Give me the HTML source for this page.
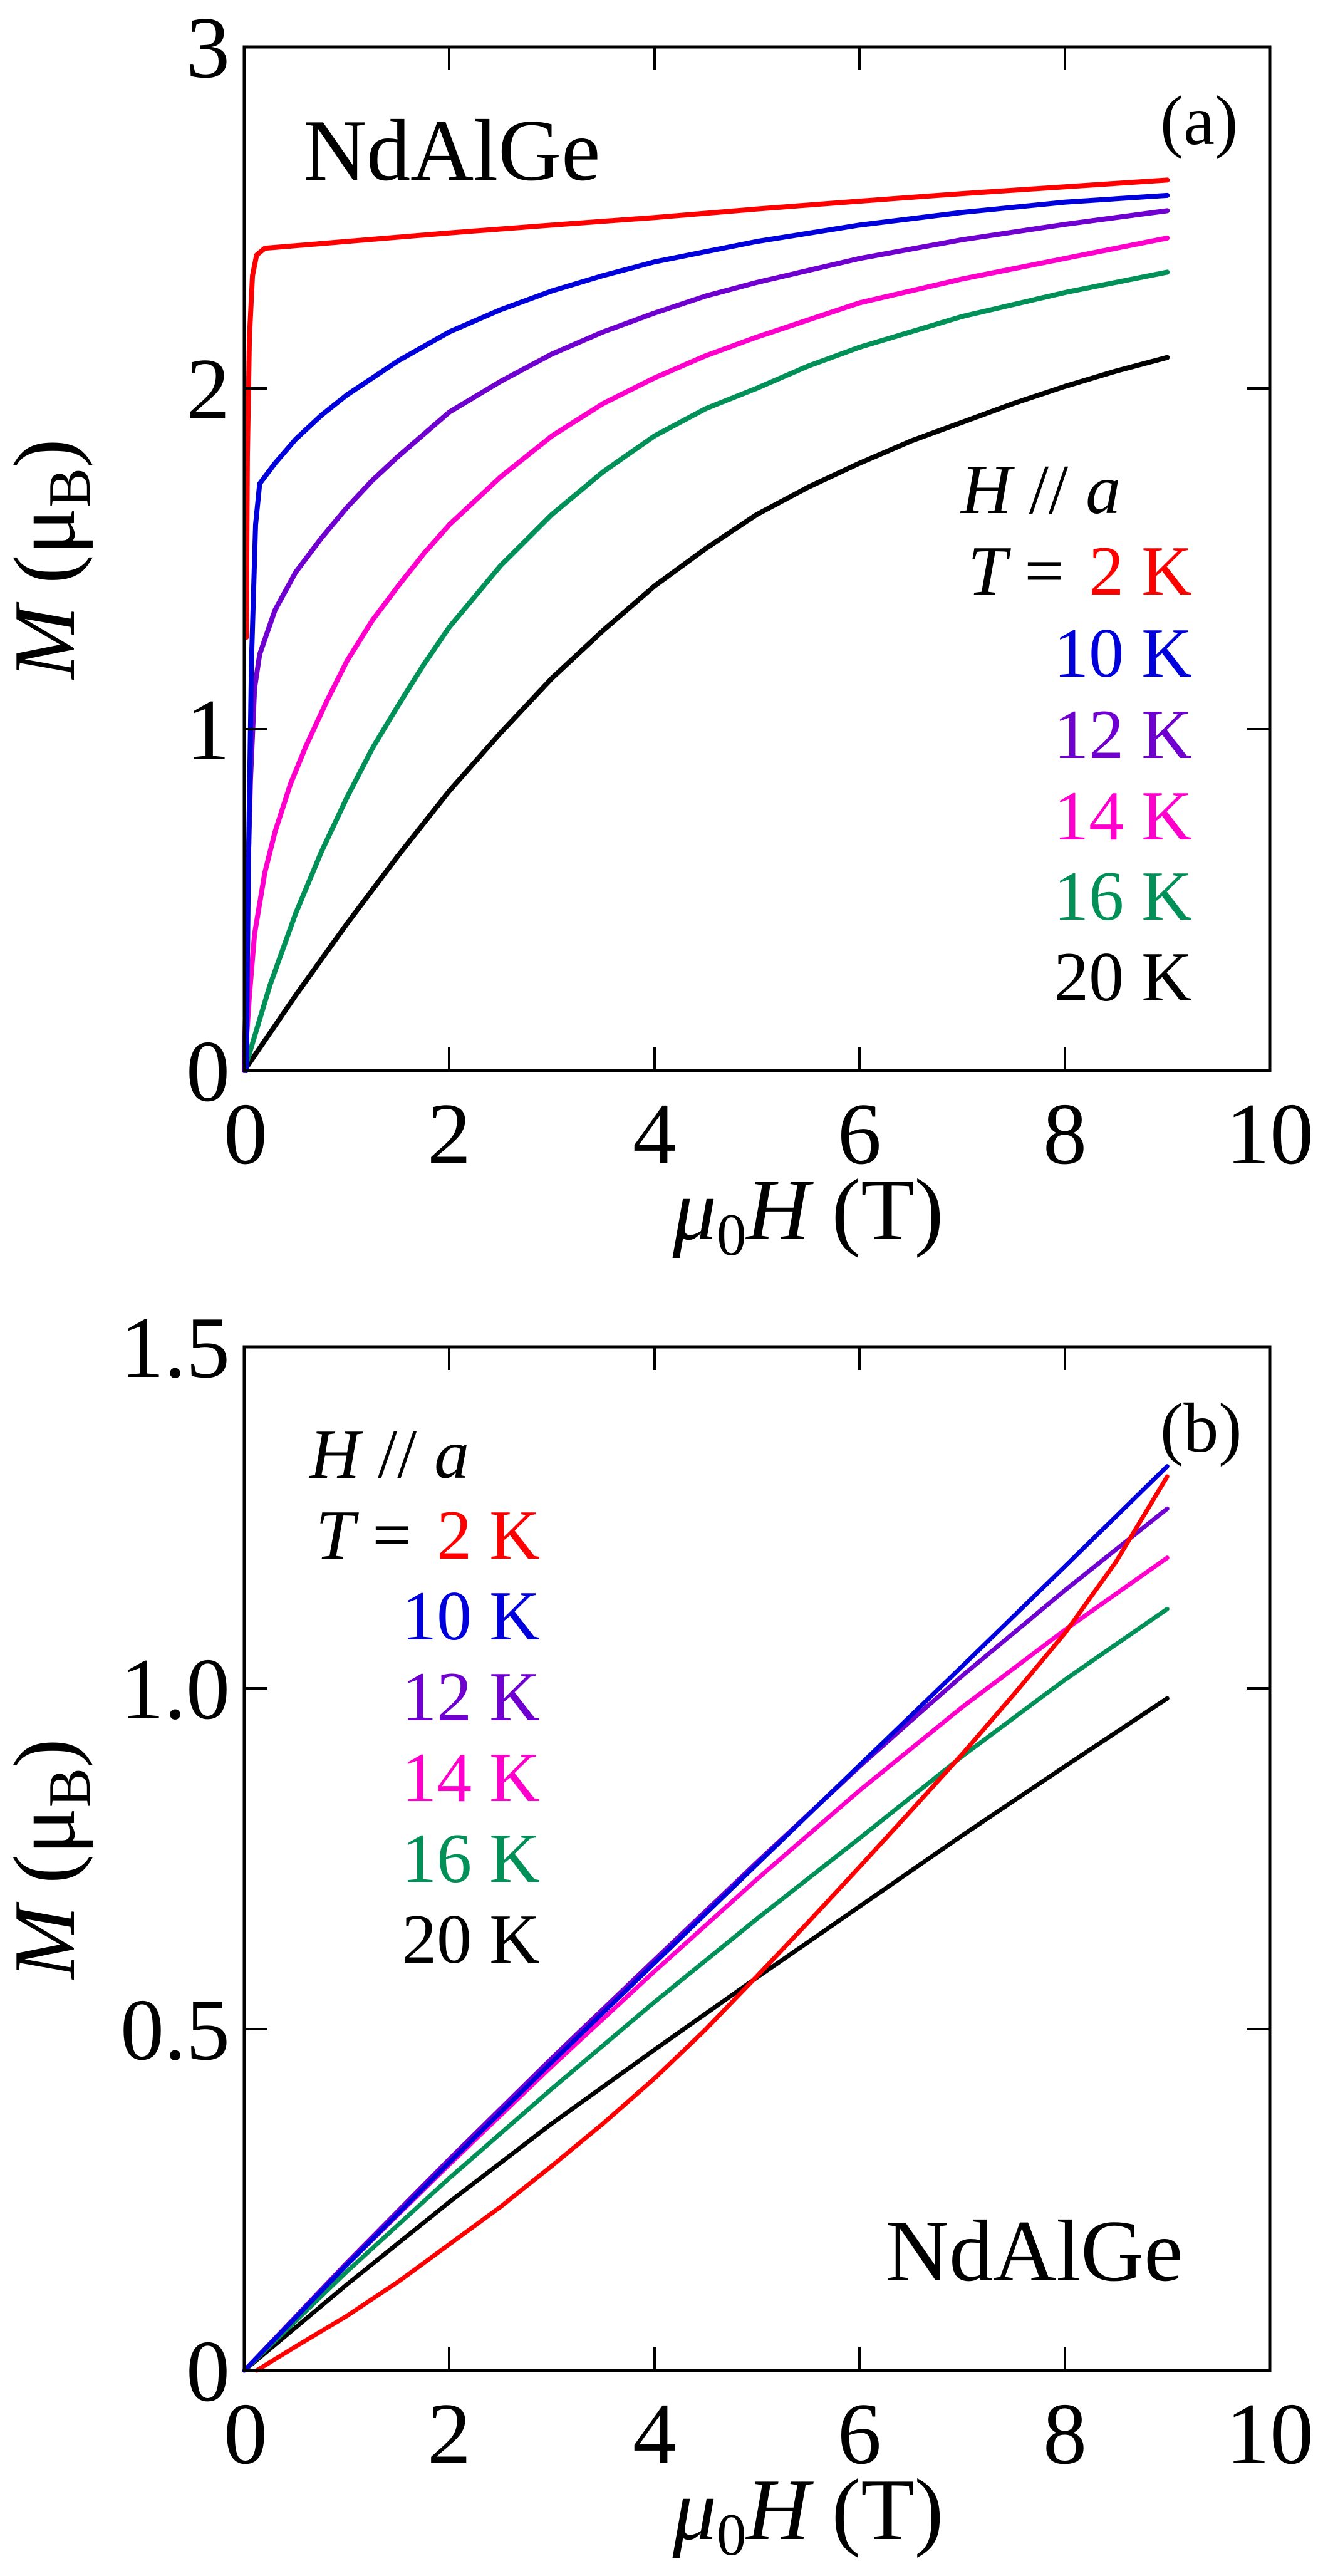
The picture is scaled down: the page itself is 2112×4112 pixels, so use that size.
<!DOCTYPE html>
<html><head><meta charset="utf-8"><style>
html,body{margin:0;padding:0;background:#fff;}
svg{display:block;}
svg text{font-family:"Liberation Serif","DejaVu Serif","Times New Roman",serif;fill:#000;}
</style></head><body>
<svg width="2112" height="4112" viewBox="0 0 2112 4112" xmlns="http://www.w3.org/2000/svg" font-family="Liberation Serif, DejaVu Serif, serif">
<rect width="2112" height="4112" fill="#fff"/>

<!-- ===== Panel (a) ===== -->
<g fill="none" stroke-linejoin="round" stroke-linecap="round">
<g transform="matrix(163.7 0 0 -544.7 390 1709)">
<polyline vector-effect="non-scaling-stroke" stroke="#000" stroke-width="8" points="0,0 0.25,0.11 0.5,0.22 0.75,0.325 1,0.43 1.25,0.53 1.5,0.63 1.75,0.725 2,0.82 2.5,0.99 3,1.15 3.5,1.29 4,1.42 4.5,1.53 5,1.63 5.5,1.71 6,1.78 6.5,1.845 7,1.9 7.5,1.955 8,2.005 8.5,2.05 9,2.09"/>
<polyline vector-effect="non-scaling-stroke" stroke="#009058" stroke-width="8" points="0,0 0.1,0.1 0.25,0.25 0.5,0.46 0.75,0.64 1,0.8 1.25,0.945 1.5,1.07 1.75,1.19 2,1.3 2.5,1.48 3,1.63 3.5,1.755 4,1.86 4.5,1.94 5,2.0 5.5,2.065 6,2.12 7,2.21 8,2.28 9,2.34"/>
<polyline vector-effect="non-scaling-stroke" stroke="#ff00cc" stroke-width="8" points="0,0 0.05,0.22 0.1,0.4 0.2,0.58 0.3,0.7 0.45,0.84 0.6,0.95 0.8,1.08 1,1.2 1.25,1.32 1.5,1.42 1.75,1.515 2,1.6 2.5,1.74 3,1.86 3.5,1.955 4,2.03 4.5,2.095 5,2.15 6,2.25 7,2.32 8,2.38 9,2.44"/>
<polyline vector-effect="non-scaling-stroke" stroke="#7000d0" stroke-width="8" points="0,0 0.03,0.5 0.06,0.85 0.1,1.12 0.15,1.22 0.3,1.35 0.5,1.46 0.75,1.56 1,1.65 1.25,1.73 1.5,1.8 2,1.93 2.5,2.02 3,2.1 3.5,2.165 4,2.22 4.5,2.27 5,2.31 6,2.38 7,2.435 8,2.48 9,2.52"/>
<polyline vector-effect="non-scaling-stroke" stroke="#0000dd" stroke-width="8" points="0.02,0 0.04,0.6 0.07,1.2 0.11,1.6 0.15,1.72 0.3,1.78 0.5,1.85 0.75,1.92 1,1.98 1.5,2.08 2,2.165 2.5,2.23 3,2.285 3.5,2.33 4,2.37 4.5,2.4 5,2.43 6,2.478 7,2.515 8,2.545 9,2.565"/>
<polyline vector-effect="non-scaling-stroke" stroke="#ff0000" stroke-width="8" points="0.02,1.27 0.03,1.8 0.05,2.15 0.08,2.33 0.12,2.39 0.2,2.41 1,2.43 2,2.455 3,2.478 4,2.5 5,2.525 6,2.548 7,2.57 8,2.59 9,2.61"/>
</g>
</g>
<rect x="390" y="75" width="1637" height="1634" fill="none" stroke="#000" stroke-width="5"/>
<g stroke="#000" stroke-width="4">
<line x1="717" y1="1709" x2="717" y2="1672"/><line x1="1045" y1="1709" x2="1045" y2="1672"/>
<line x1="1372" y1="1709" x2="1372" y2="1672"/><line x1="1700" y1="1709" x2="1700" y2="1672"/>
<line x1="717" y1="75" x2="717" y2="112"/><line x1="1045" y1="75" x2="1045" y2="112"/>
<line x1="1372" y1="75" x2="1372" y2="112"/><line x1="1700" y1="75" x2="1700" y2="112"/>
<line x1="390" y1="1164" x2="427" y2="1164"/><line x1="390" y1="620" x2="427" y2="620"/>
<line x1="2027" y1="1164" x2="1990" y2="1164"/><line x1="2027" y1="620" x2="1990" y2="620"/>
</g>
<g font-size="140" text-anchor="end">
<text x="367" y="1757">0</text><text x="367" y="1212">1</text><text x="367" y="668">2</text><text x="367" y="123">3</text>
</g>
<g font-size="140" text-anchor="middle">
<text x="392" y="1857">0</text><text x="717" y="1857">2</text><text x="1045" y="1857">4</text><text x="1372" y="1857">6</text><text x="1700" y="1857">8</text><text x="2027" y="1857">10</text>
</g>
<text x="1290" y="1978" font-size="140" text-anchor="middle"><tspan font-style="italic">μ</tspan><tspan font-size="95" dy="25">0</tspan><tspan font-style="italic" dy="-25">H</tspan> (T)</text>
<text transform="translate(118,892) rotate(-90)" font-size="140" text-anchor="middle"><tspan font-style="italic">M</tspan> (μ<tspan font-size="95" dy="25">B</tspan><tspan dy="-25">)</tspan></text>
<text x="484" y="287" font-size="140">NdAlGe</text>
<text x="1852" y="230" font-size="112">(a)</text>
<g font-size="112">
<text x="1534" y="819"><tspan font-style="italic">H</tspan> // <tspan font-style="italic">a</tspan></text>
<text x="1545" y="949"><tspan font-style="italic">T</tspan> = </text>
<g text-anchor="end">
<text x="1903" y="949" style="fill:#ff0000">2 K</text>
<text x="1903" y="1080" style="fill:#0000dd">10 K</text>
<text x="1903" y="1210" style="fill:#7000d0">12 K</text>
<text x="1903" y="1340" style="fill:#ff00cc">14 K</text>
<text x="1903" y="1468" style="fill:#009058">16 K</text>
<text x="1903" y="1597" style="fill:#000">20 K</text>
</g>
</g>

<!-- ===== Panel (b) ===== -->
<g fill="none" stroke-linejoin="round" stroke-linecap="round">
<g transform="matrix(163.7 0 0 -1089.3 390 3784)">
<polyline vector-effect="non-scaling-stroke" stroke="#000" stroke-width="7" points="0,0 1,0.126 2,0.247 3,0.362 4,0.47 5,0.576 6,0.68 7,0.784 8,0.885 9,0.985"/>
<polyline vector-effect="non-scaling-stroke" stroke="#009058" stroke-width="7" points="0,0 1,0.145 2,0.282 3,0.413 4,0.54 5,0.662 6,0.78 7,0.9 8,1.012 9,1.116"/>
<polyline vector-effect="non-scaling-stroke" stroke="#ff00cc" stroke-width="7" points="0,0 1,0.155 2,0.302 3,0.446 4,0.585 5,0.72 6,0.85 7,0.972 8,1.085 9,1.191"/>
<polyline vector-effect="non-scaling-stroke" stroke="#7000d0" stroke-width="7" points="0,0 1,0.158 2,0.31 3,0.458 4,0.602 5,0.745 6,0.885 6.5,0.952 7,1.018 8,1.143 9,1.263"/>
<polyline vector-effect="non-scaling-stroke" stroke="#0000dd" stroke-width="7" points="0,0 1,0.155 2,0.305 3,0.452 4,0.597 5,0.742 6,0.887 7,1.032 8,1.178 9,1.325"/>
<polyline vector-effect="non-scaling-stroke" stroke="#ff0000" stroke-width="7" points="0.12,0 0.5,0.035 1,0.08 1.5,0.13 2,0.185 2.5,0.24 3,0.3 3.5,0.362 4,0.428 4.5,0.5 5,0.578 5.5,0.657 6,0.738 6.5,0.82 7,0.903 7.5,0.99 8,1.08 8.5,1.185 9,1.31"/>
</g>
</g>
<rect x="390" y="2150" width="1637" height="1634" fill="none" stroke="#000" stroke-width="5"/>
<g stroke="#000" stroke-width="4">
<line x1="717" y1="3784" x2="717" y2="3747"/><line x1="1045" y1="3784" x2="1045" y2="3747"/>
<line x1="1372" y1="3784" x2="1372" y2="3747"/><line x1="1700" y1="3784" x2="1700" y2="3747"/>
<line x1="717" y1="2150" x2="717" y2="2187"/><line x1="1045" y1="2150" x2="1045" y2="2187"/>
<line x1="1372" y1="2150" x2="1372" y2="2187"/><line x1="1700" y1="2150" x2="1700" y2="2187"/>
<line x1="390" y1="3239" x2="427" y2="3239"/><line x1="390" y1="2695" x2="427" y2="2695"/>
<line x1="2027" y1="3239" x2="1990" y2="3239"/><line x1="2027" y1="2695" x2="1990" y2="2695"/>
</g>
<g font-size="140" text-anchor="end">
<text x="367" y="3832">0</text><text x="367" y="3287">0.5</text><text x="367" y="2743">1.0</text><text x="367" y="2198">1.5</text>
</g>
<g font-size="140" text-anchor="middle">
<text x="392" y="3932">0</text><text x="717" y="3932">2</text><text x="1045" y="3932">4</text><text x="1372" y="3932">6</text><text x="1700" y="3932">8</text><text x="2027" y="3932">10</text>
</g>
<text x="1290" y="4053" font-size="140" text-anchor="middle"><tspan font-style="italic">μ</tspan><tspan font-size="95" dy="25">0</tspan><tspan font-style="italic" dy="-25">H</tspan> (T)</text>
<text transform="translate(118,2967) rotate(-90)" font-size="140" text-anchor="middle"><tspan font-style="italic">M</tspan> (μ<tspan font-size="95" dy="25">B</tspan><tspan dy="-25">)</tspan></text>
<text x="1414" y="3640" font-size="140">NdAlGe</text>
<text x="1852" y="2317" font-size="112">(b)</text>
<g font-size="112">
<text x="494" y="2359"><tspan font-style="italic">H</tspan> // <tspan font-style="italic">a</tspan></text>
<text x="504" y="2488"><tspan font-style="italic">T</tspan> = </text>
<g text-anchor="end">
<text x="862" y="2488" style="fill:#ff0000">2 K</text>
<text x="862" y="2617" style="fill:#0000dd">10 K</text>
<text x="862" y="2746" style="fill:#7000d0">12 K</text>
<text x="862" y="2875" style="fill:#ff00cc">14 K</text>
<text x="862" y="3004" style="fill:#009058">16 K</text>
<text x="862" y="3133" style="fill:#000">20 K</text>
</g>
</g>
</svg>
</body></html>
